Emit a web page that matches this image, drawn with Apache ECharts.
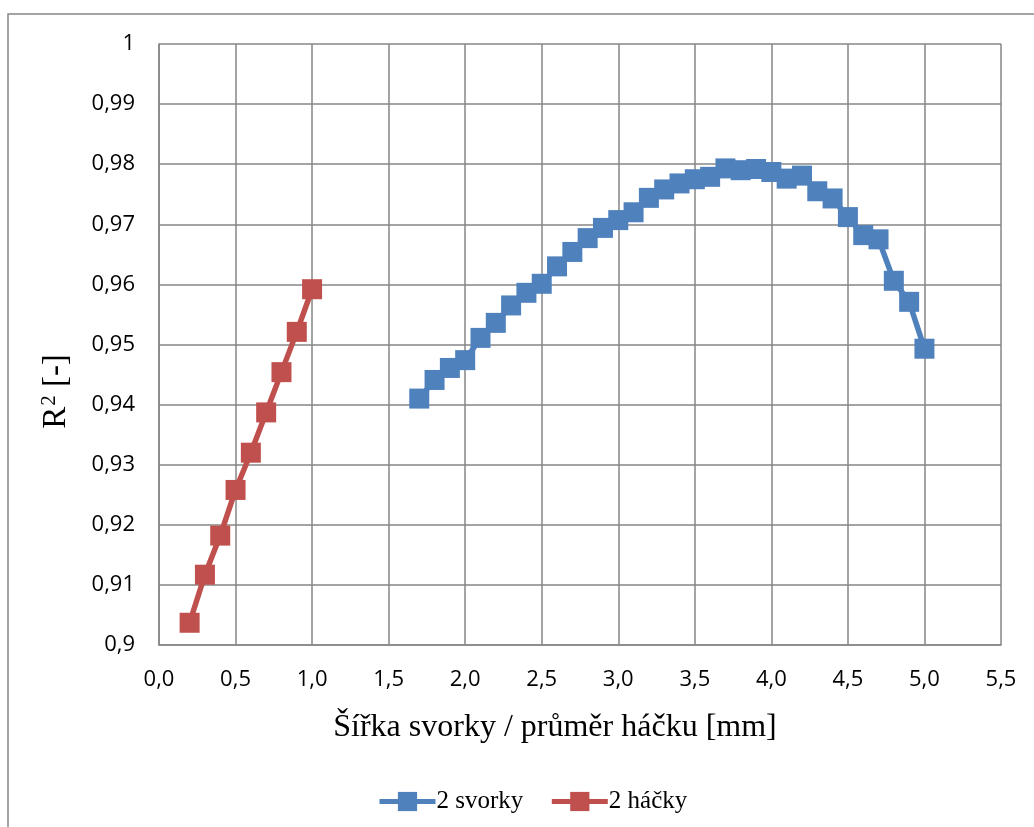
<!DOCTYPE html>
<html>
<head>
<meta charset="utf-8">
<script src="https://cdn.jsdelivr.net/npm/echarts@6/dist/echarts.min.js"></script>
<style>
  html, body { margin: 0; padding: 0; background: #fff; }
  #chart { width: 1034px; height: 827px; }
</style>
</head>
<body>
<div id="chart"></div>
<script>
// sirka svorky 1.7 .. 5.0 mm
var svorkyX = [1.7, 1.8, 1.9, 2.0, 2.1, 2.2, 2.3, 2.4, 2.5, 2.6, 2.7, 2.8, 2.9, 3.0, 3.1, 3.2, 3.3,
               3.4, 3.5, 3.6, 3.7, 3.8, 3.9, 4.0, 4.1, 4.2, 4.3, 4.4, 4.5, 4.6, 4.7, 4.8, 4.9, 5.0];
var svorkyR2 = [0.9410, 0.9441, 0.9461, 0.9474, 0.9511, 0.9536, 0.9565, 0.9586, 0.9601, 0.9630,
                0.9654, 0.9677, 0.9694, 0.9707, 0.9720, 0.9744, 0.9758, 0.9768, 0.9775, 0.9779,
                0.9793, 0.9790, 0.9792, 0.9787, 0.9776, 0.9781, 0.9755, 0.9743, 0.9712, 0.9682,
                0.9675, 0.9606, 0.9571, 0.9493];
// prumer hacku 0.2 .. 1.0 mm
var hackyX = [0.2, 0.3, 0.4, 0.5, 0.6, 0.7, 0.8, 0.9, 1.0];
var hackyR2 = [0.9037, 0.9117, 0.9182, 0.9258, 0.9320, 0.9387, 0.9454, 0.9521, 0.9592];

var seriesNames = ['2 svorky', '2 háčky'];

function pairs(xs, ys) {
  return xs.map(function (x, i) { return [x, ys[i]]; });
}

var gridColor = '#868686';
var labelFont = { fontFamily: 'Open Sans', fontSize: 22, color: '#000' };

var myChart = echarts.init(document.getElementById('chart'));
myChart.setOption({
  backgroundColor: '#fff',
  animation: false,
  graphic: [{
    type: 'polyline',
    shape: { points: [[8, 840], [8, 14], [1040, 14]] },
    style: { stroke: gridColor, lineWidth: 1.5, fill: null },
    silent: true
  }],
  grid: { left: 159, top: 44, right: 33, bottom: 182 },
  legend: {
    left: 372,
    top: 784,
    itemWidth: 56,
    itemHeight: 24,
    itemGap: 26,
    lineStyle: { width: 5 },
    textStyle: { fontFamily: 'Liberation Serif', fontSize: 25, color: '#000', padding: [0, 0, 0, -4] },
    data: seriesNames
  },
  xAxis: {
    type: 'value',
    min: 0,
    max: 5.5,
    interval: 0.5,
    name: 'Šířka svorky / průměr háčku [mm]',
    nameLocation: 'middle',
    nameGap: 67,
    nameTextStyle: { fontFamily: 'Liberation Serif', fontSize: 32, color: '#000', padding: [0, 50, 0, 0] },
    axisLine: { show: true, lineStyle: { color: gridColor, width: 1.5 } },
    axisTick: { show: false },
    axisLabel: Object.assign({
      margin: 24,
      formatter: function (v) { return v.toFixed(1).replace('.', ','); }
    }, labelFont),
    splitLine: { show: true, lineStyle: { color: gridColor, width: 1.5 } }
  },
  yAxis: {
    type: 'value',
    min: 0.9,
    max: 1,
    interval: 0.01,
    name: '{a|R}{b|2}{a| [-]}',
    nameLocation: 'middle',
    nameGap: 86,
    nameTextStyle: {
      padding: [0, 0, 0, -94],
      rich: {
        a: { fontFamily: 'Liberation Serif', fontSize: 33, color: '#000' },
        b: { fontFamily: 'Liberation Serif', fontSize: 21, color: '#000', padding: [0, 0, 13, 1] }
      }
    },
    axisLine: { show: true, lineStyle: { color: gridColor, width: 1.5 } },
    axisTick: { show: false },
    axisLabel: Object.assign({
      margin: 24,
      formatter: function (v) { return String(Math.round(v * 100) / 100).replace('.', ','); }
    }, labelFont),
    splitLine: { show: true, lineStyle: { color: gridColor, width: 1.5 } }
  },
  series: [{
    name: seriesNames[0],
    type: 'line',
    data: pairs(svorkyX, svorkyR2),
    symbol: 'rect',
    symbolSize: 20,
    color: '#4F81BD',
    lineStyle: { width: 5.5, color: '#4F81BD' },
    itemStyle: { color: '#4F81BD' }
  }, {
    name: seriesNames[1],
    type: 'line',
    data: pairs(hackyX, hackyR2),
    symbol: 'rect',
    symbolSize: 20,
    color: '#C0504D',
    lineStyle: { width: 5.5, color: '#C0504D' },
    itemStyle: { color: '#C0504D' }
  }]
});
</script>
</body>
</html>
